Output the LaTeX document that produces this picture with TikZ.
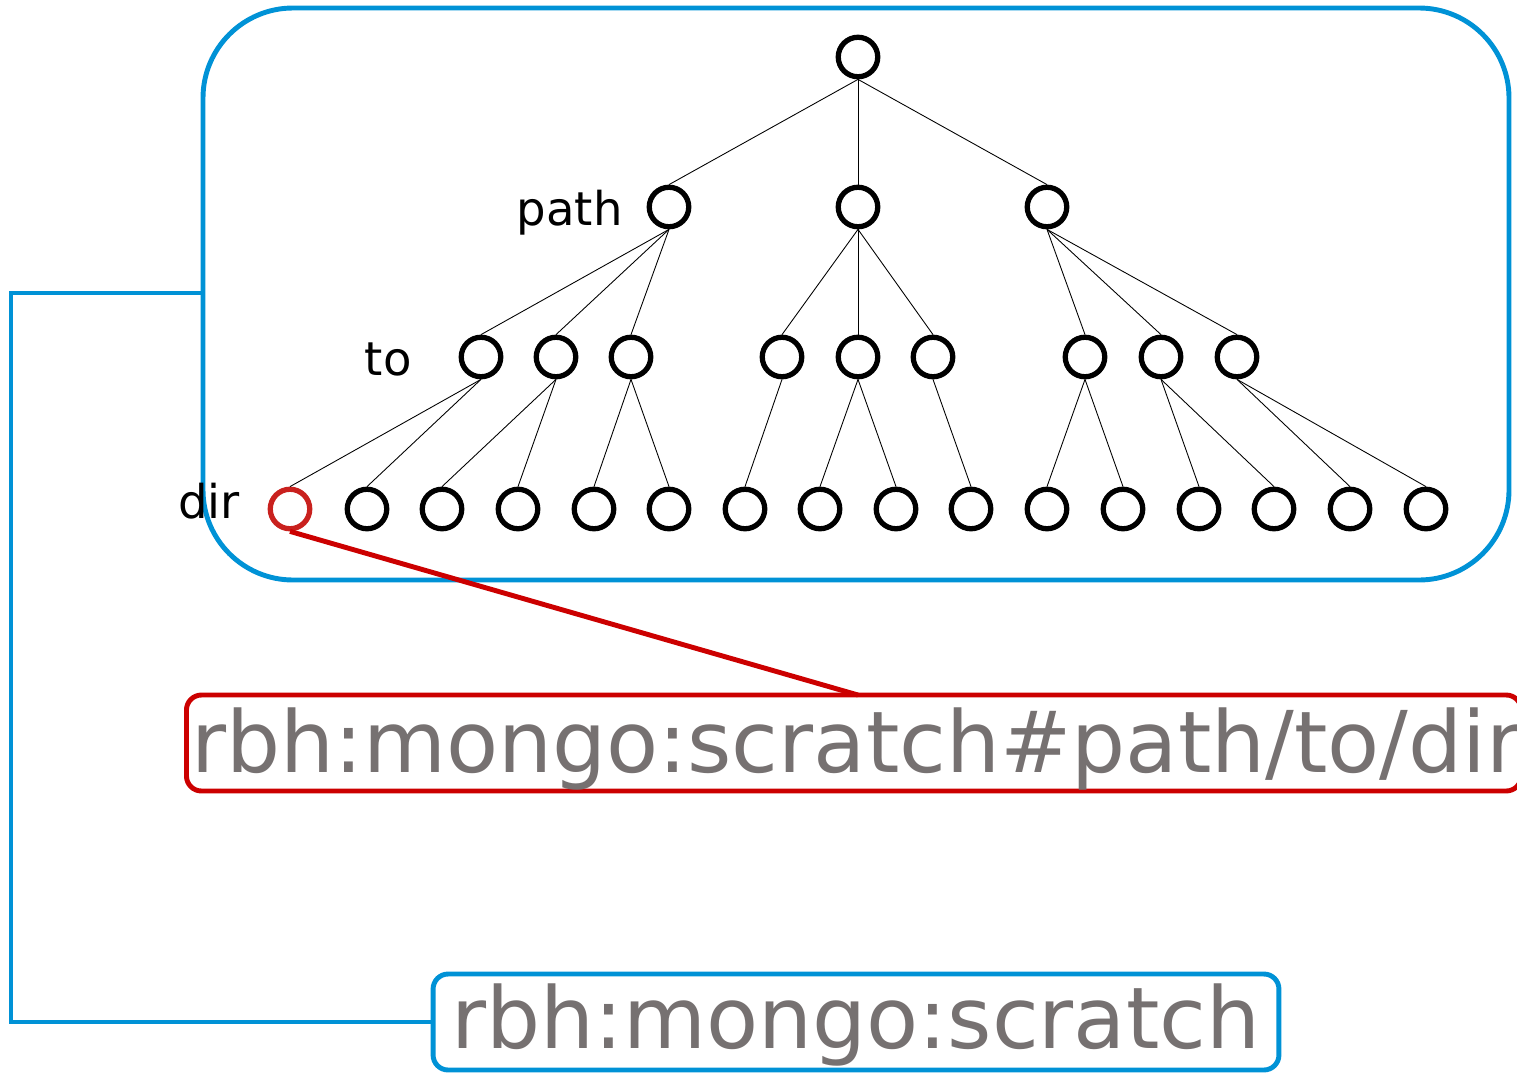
\documentclass[tikz,border=0pt]{standalone}
\usepackage{fontspec}
\setmainfont{DejaVu Sans}
\usetikzlibrary{positioning}
\definecolor{rbhblue}{RGB}{0,146,214}
\definecolor{rbhred}{RGB}{204,0,0}
\definecolor{selred}{RGB}{201,33,30}
\definecolor{urigray}{RGB}{118,113,113}

\begin{document}
\begin{tikzpicture}[x=0.02cm,y=-0.02cm,
    vertex/.style={circle,draw,line width=3pt,minimum size=0.79cm,inner sep=0pt},
    branch/.style={line width=0.5pt},
    tag/.style={font=\fontsize{26.5}{30}\selectfont,inner sep=0pt},
    frame/.style={draw=rbhblue,line width=2.8pt},
    uri/.style={draw,rounded corners=0.3cm,line width=2.8pt,text=urigray,
      font=\fontsize{48.5}{56}\selectfont,inner sep=0pt,minimum height=1.92cm}]
  \useasboundingbox (0,0) rectangle (1517,1072);

  % the backend: a tree of directories
  \draw[frame,rounded corners=1.8cm] (203,8) rectangle (1509,580);
  \coordinate (tap) at (203,293);

  \node[vertex] (r) at (858,57) {};
  \foreach \i/\x in {1/669,2/858,3/1047}
    \node[vertex] (p\i) at (\x,207) {};
  \foreach \i/\x in {1/481,2/556,3/631,4/782,5/858,6/933,7/1085,8/1161,9/1237}
    \node[vertex] (t\i) at (\x,357) {};
  % leaves, the first one is the selected dir
  \node[vertex,draw=selred] (d1) at (290,509) {};
  \foreach \i/\x in {2/367,3/442,4/518,5/594,6/669,7/745,8/820,9/896,
                     10/971,11/1047,12/1123,13/1199,14/1274,15/1350,16/1426}
    \node[vertex] (d\i) at (\x,509) {};

  \foreach \i in {1,2,3}
    \draw[branch] (r.south) -- (p\i.north);
  \foreach \a/\b in {1/1,1/2,1/3,2/4,2/5,2/6,3/7,3/8,3/9}
    \draw[branch] (p\a.south) -- (t\b.north);
  \foreach \a/\b in {1/1,1/2,2/3,2/4,3/5,3/6,4/7,5/8,5/9,6/10,
                     7/11,7/12,8/13,8/14,9/15,9/16}
    \draw[branch] (t\a.south) -- (d\b.north);

  \node[tag,anchor=base east] (lpath) at (623,225) {path};
  \node[tag,anchor=base east] (lto) at (412,375) {to};
  \node[tag,anchor=base east] (ldir) at (240,518) {dir};

  % uris (the long one runs past the right edge)
  \node[uri,draw=rbhred,anchor=west,minimum width=26.7cm,
    text width=26.5cm,align=left,
    text height=1.44cm,text depth=0.28cm] (kdir) at (184,743)
    {rbh:mongo:scratch\#path/to/dir};
  \coordinate (kdirtop) at (858,695);
  \draw[draw=rbhred,line width=2.8pt] (d1.south) -- (kdirtop);

  \node[uri,draw=rbhblue,minimum width=16.92cm,
    text height=1.38cm,text depth=0.34cm] (kfs) at (856,1022) {rbh:mongo:scratch};
  \draw[frame] (tap) -- (11,293) |- (kfs.west);
\end{tikzpicture}
\end{document}
